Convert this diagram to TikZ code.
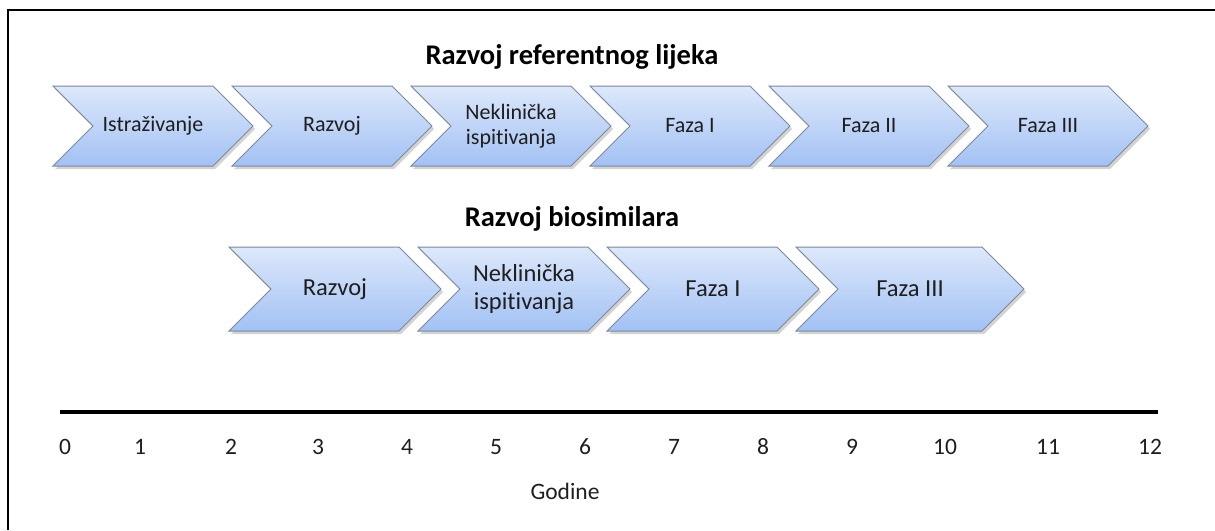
\documentclass[tikz,border=0pt]{standalone}
\usepackage{fontspec}
\setmainfont[Ligatures=NoCommon]{Carlito}
\usetikzlibrary{shadows}
\definecolor{chtop}{HTML}{DDE8FB}
\definecolor{chbot}{HTML}{A2C1F4}
\definecolor{chline}{HTML}{7D8898}
\definecolor{txt}{HTML}{1E1E1E}
\tikzset{
  chevbox/.style={draw=chline, line width=1pt, top color=chtop, bottom color=chbot,
    drop shadow={shadow xshift=2pt, shadow yshift=-3pt, opacity=0.35}},
  labA/.style={text=txt, align=center, font=\fontsize{22}{24.5}\selectfont},
  labB/.style={text=txt, align=center, font=\fontsize{24.5}{27.5}\selectfont},
  ttl/.style={text=black, font=\bfseries\fontsize{28.5}{32}\selectfont},
  tick/.style={text=txt, font=\fontsize{23.5}{26}\selectfont},
}
% x0, ytop, width, height, depth, name, text, style
\newcommand\mychev[8]{%
  \path[chevbox] (#1,-#2) -- ++(#3,0) -- ++(#5,-#4/2) -- ++(-#5,-#4/2) -- ++(-#3,0) -- ++(#5,#4/2) -- cycle;
  \node[#8] (#6) at ({#1+(#3+#5)/2},{-#2-#4/2}) {#7};
}
\begin{document}
\begin{tikzpicture}[x=1pt,y=1pt]
\useasboundingbox (0,0) rectangle (1215,-530);
% frame (left and top edges)
\draw[line width=2.2pt] (8,-530) -- (8,-10) -- (1215,-10);
% titles
\node[ttl] (t1) at (572,-57) {Razvoj referentnog lijeka};
\node[ttl] (t2) at (572,-219) {Razvoj biosimilara};
% row 1
\mychev{53}{86}{160}{80}{40}{a1}{Istraživanje}{labA}
\mychev{232}{86}{160}{80}{40}{a2}{Razvoj}{labA}
\mychev{411}{86}{160}{80}{40}{a3}{Neklinička\\ispitivanja}{labA}
\mychev{590}{86}{160}{80}{40}{a4}{Faza I}{labA}
\mychev{769}{86}{160}{80}{40}{a5}{Faza II}{labA}
\mychev{948}{86}{160}{80}{40}{a6}{Faza III}{labA}
% row 2
\mychev{229}{247}{170}{84}{42}{b1}{Razvoj}{labB}
\mychev{418}{247}{170}{84}{42}{b2}{Neklinička\\ispitivanja}{labB}
\mychev{607}{247}{170}{84}{42}{b3}{Faza I}{labB}
\mychev{796}{247}{186}{84}{42}{b4}{Faza III}{labB}
% axis
\coordinate (ax0) at (60,-412);
\coordinate (ax1) at (1158,-412);
\draw[line width=4pt] (ax0) -- (ax1);
\foreach \v/\x in {0/65,1/140,2/231,3/318,4/407,5/496,6/585,7/674,8/763,9/852,10/945,11/1048,12/1150}{
  \node[tick] (n\v) at (\x,-447) {\v};
}
\node[tick] (god) at (565,-491) {Godine};
\end{tikzpicture}
\end{document}
